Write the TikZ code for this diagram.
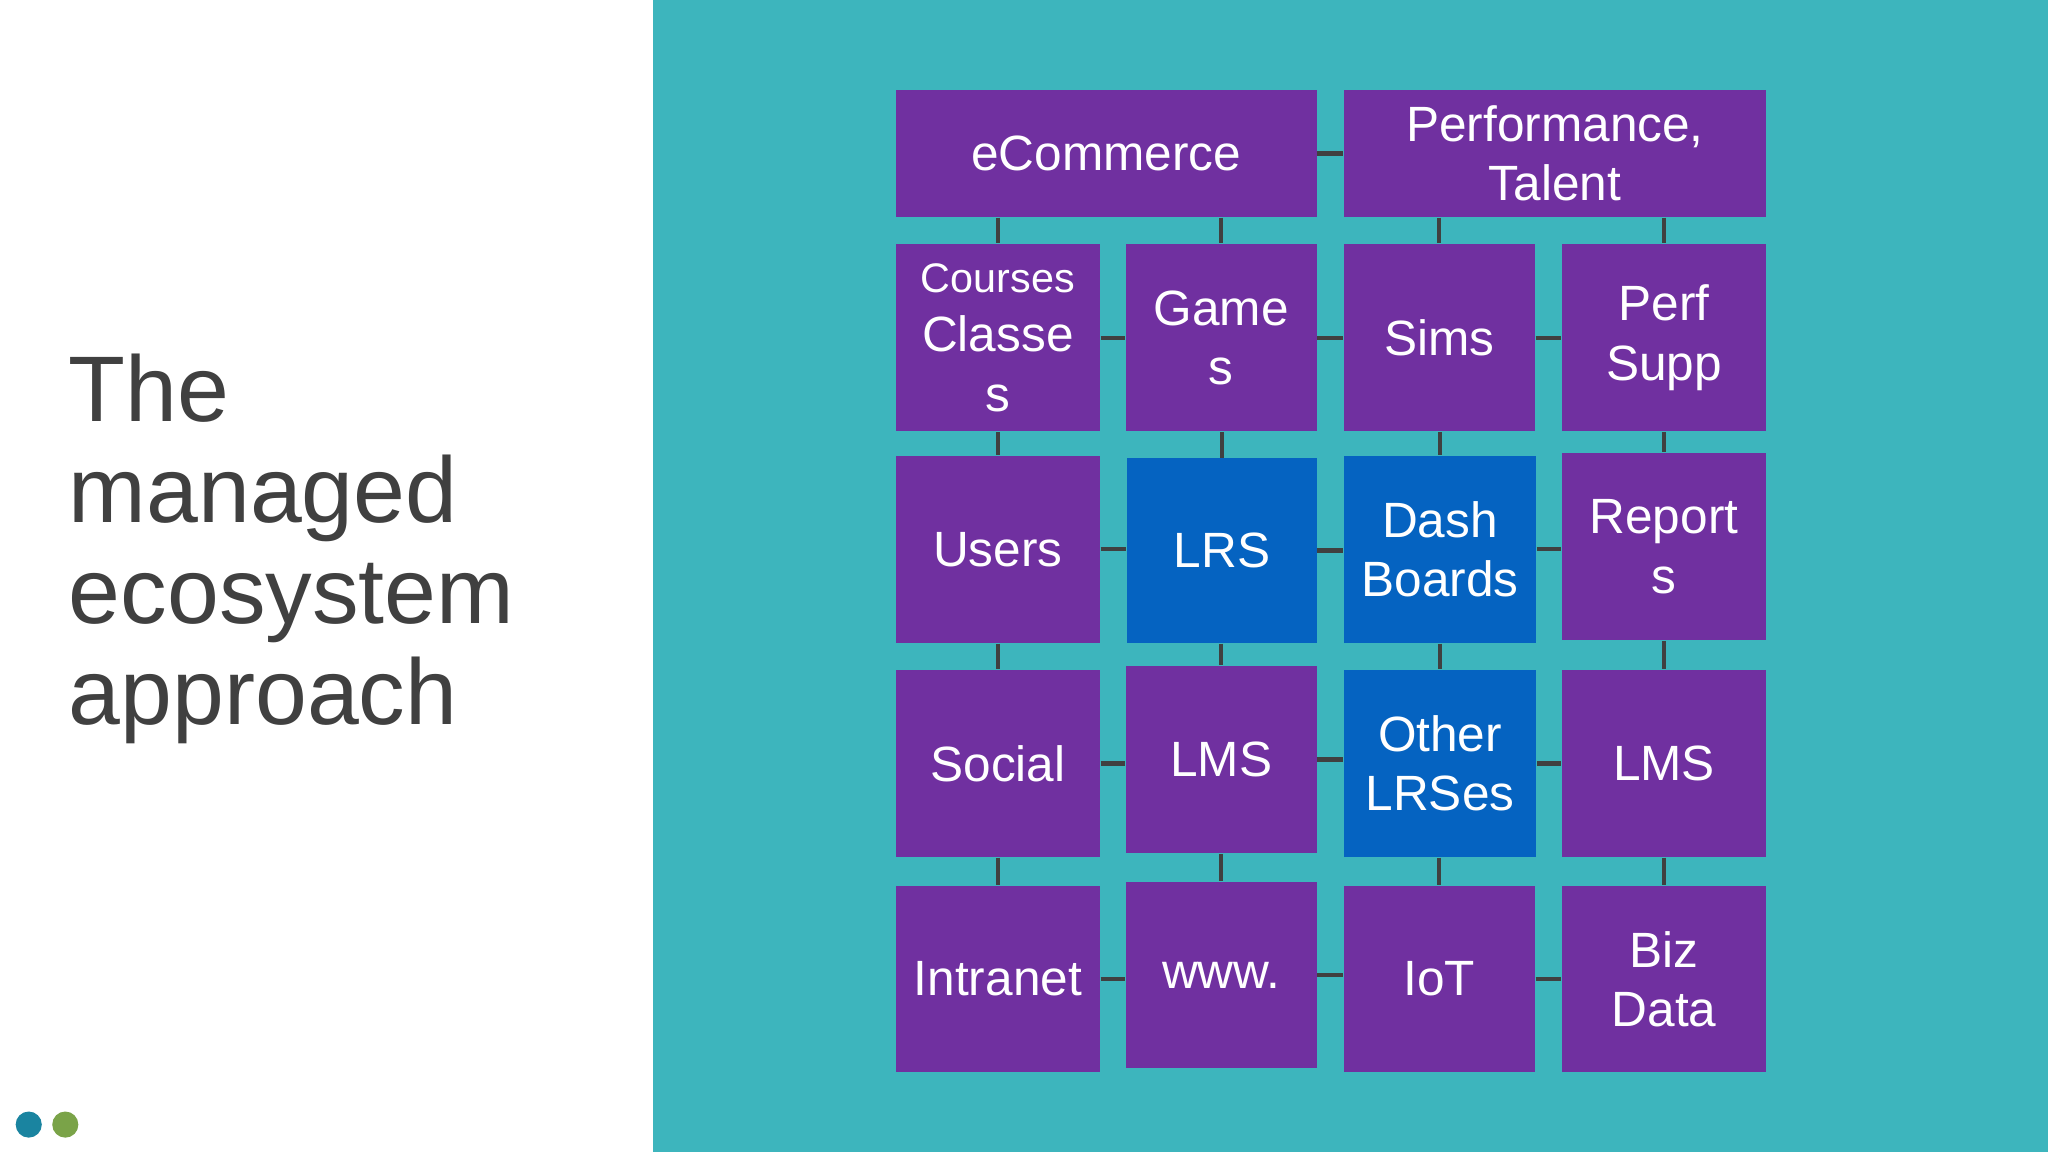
\documentclass[tikz,border=0pt]{standalone}
\usepackage{fontspec}
\setmainfont{Liberation Sans}
\begin{document}
\begin{tikzpicture}[x=0.1mm,y=-0.1mm,
  bx/.style={draw=none,inner sep=0pt,align=center,text=white,font=\fontsize{10.8}{12.9}\selectfont},
  pu/.style={bx,fill=purp},
  bl/.style={bx,fill=blu},
  cn/.style={draw=black!75,line width=0.9pt}]
\definecolor{purp}{HTML}{7030A0}
\definecolor{blu}{HTML}{0563C1}
\definecolor{teal}{HTML}{3DB5BD}
\definecolor{ttl}{HTML}{404040}
\definecolor{dotA}{HTML}{1A84A0}
\definecolor{dotB}{HTML}{7AA348}
\useasboundingbox (0,0) rectangle (1568,882);
\fill[white] (0,0) rectangle (500,882);
\fill[teal] (500,0) rectangle (1568,882);
\fill[dotA] (22,861) circle (10);
\fill[dotB] (50,861) circle (10);
\node[anchor=north west,align=left,text=ttl,font=\fontsize{20.3}{22}\selectfont,inner sep=0pt] (t) at (52,270) {The\\managed\\ecosystem\\approach};
\newcommand{\bxx}[7]{\node[#1,minimum width={(#5-#3)*0.1mm},minimum height={(#6-#4)*0.1mm}] (#2) at ({(#3+#5)/2},{(#4+#6)/2}) {#7};}
\bxx{pu}{ec}{686}{69}{1008}{166}{eCommerce}
\bxx{pu}{pt}{1029}{69}{1352}{166}{Performance,\\Talent}
\bxx{pu}{co}{686}{187}{842}{330}{{\fontsize{9}{10}\selectfont Courses}\\Classe\\s}
\bxx{pu}{ga}{862}{187}{1008}{330}{Game\\s}
\bxx{pu}{si}{1029}{187}{1175}{330}{Sims}
\bxx{pu}{ps}{1196}{187}{1352}{330}{Perf\\Supp}
\bxx{pu}{us}{686}{349}{842}{492}{Users}
\bxx{bl}{lr}{863}{351}{1008}{492}{LRS}
\bxx{bl}{db}{1029}{349}{1176}{492}{Dash\\Boards}
\bxx{pu}{re}{1196}{347}{1352}{490}{Report\\s}
\bxx{pu}{so}{686}{513}{842}{656}{Social}
\bxx{pu}{lm}{862}{510}{1008}{653}{LMS}
\bxx{bl}{ot}{1029}{513}{1176}{656}{Other\\LRSes}
\bxx{pu}{lb}{1196}{513}{1352}{656}{LMS}
\bxx{pu}{in}{686}{678}{842}{821}{Intranet}
\bxx{pu}{ww}{862}{675}{1008}{818}{www.}
\bxx{pu}{io}{1029}{678}{1175}{821}{IoT}
\bxx{pu}{bz}{1196}{678}{1352}{821}{Biz\\Data}
\foreach \a/\b in {ec/pt,co/ga,ga/si,si/ps,us/lr,lr/db,db/re,so/lm,lm/ot,ot/lb,in/ww,ww/io,io/bz}
  \draw[cn] (\a.east) -- (\a.east -| \b.west);
\foreach \a/\b in {ec/co,ec/ga,pt/si,pt/ps,co/us,ga/lr,si/db,ps/re,us/so,lr/lm,db/ot,re/lb,so/in,lm/ww,ot/io,lb/bz}
  \draw[cn] (\a.south -| \b.north) -- (\b.north);
\end{tikzpicture}
\end{document}
